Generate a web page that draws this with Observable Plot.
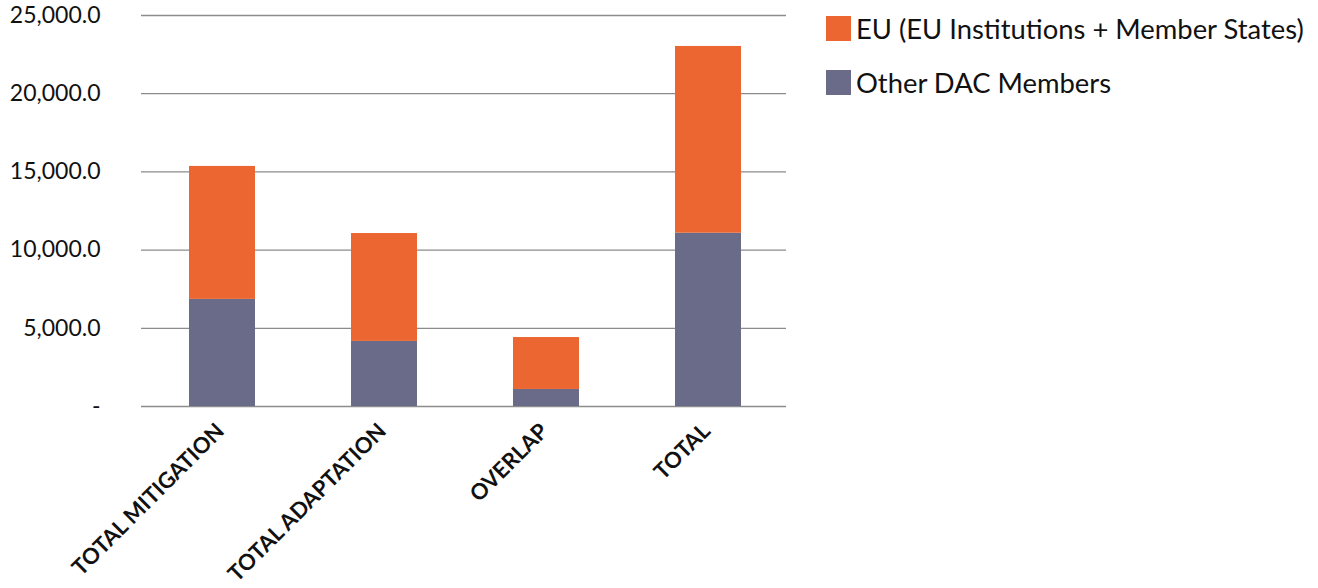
<!DOCTYPE html>
<html>
<head>
<meta charset="utf-8">
<script src="https://cdn.jsdelivr.net/npm/d3@7"></script>
<script src="https://cdn.jsdelivr.net/npm/@observablehq/plot@0.6"></script>
<style>
  html, body { margin: 0; padding: 0; background: #fff; }
  #wrap { position: relative; width: 1318px; height: 588px; font-family: Lato, "Open Sans", sans-serif; }
  #chart { position: absolute; left: 0; top: 0; }
  #legend { position: absolute; left: 826px; top: 15px; font-size: 27.4px; color: #111; }
  .item { display: flex; align-items: center; height: 26px; margin-bottom: 28px; white-space: nowrap; }
  .sw { width: 25px; height: 25px; margin-right: 5px; flex: none; }
</style>
</head>
<body>
<div id="wrap">
  <div id="chart"></div>
  <div id="legend"></div>
</div>
<script>
const categories = ["TOTAL MITIGATION", "TOTAL ADAPTATION", "OVERLAP", "TOTAL"];
const otherDAC = [6850, 4160, 1090, 11080];
const eu = [8500, 6900, 3320, 11940];
const seriesNames = ["Other DAC Members", "EU (EU Institutions + Member States)"];
const seriesColors = ["#6a6b88", "#eb6631"];
const yTicks = [0, 5000, 10000, 15000, 20000, 25000];

const rows = [];
categories.forEach((c, i) => {
  rows.push({category: c, series: seriesNames[0], value: otherDAC[i]});
  rows.push({category: c, series: seriesNames[1], value: eu[i]});
});

const fmt = d => d === 0 ? "-" : d3.format(",.1f")(d);

const chart = Plot.plot({
  width: 800,
  height: 588,
  marginLeft: 141,
  marginRight: 11,
  marginTop: 15,
  marginBottom: 182,
  style: {fontFamily: "Lato, 'Open Sans', sans-serif", background: "#fff", overflow: "visible"},
  x: {domain: categories, paddingInner: 0.59, paddingOuter: 0.295, label: null, axis: null},
  y: {domain: [0, 25000], label: null},
  color: {domain: seriesNames, range: seriesColors},
  marks: [
    Plot.ruleY(yTicks, {stroke: "#8c8c8c", strokeWidth: 1.3, insetRight: 3}),
    Plot.barY(rows, Plot.stackY({x: "category", y: "value", fill: "series", order: seriesNames})),
    Plot.axisY(yTicks, {tickSize: 0, tickPadding: 41, tickFormat: fmt, fontSize: 23, fill: "#111", label: null}),
    Plot.text(categories, {
      x: d => d, frameAnchor: "bottom", dy: 26, dx: 3,
      rotate: -45, textAnchor: "end", lineAnchor: "bottom",
      fontSize: 22, fontWeight: "bold", fill: "#111", text: d => d
    })
  ]
});
document.getElementById("chart").appendChild(chart);

const legend = document.getElementById("legend");
[1, 0].forEach(i => {
  const it = document.createElement("div");
  it.className = "item";
  const sw = document.createElement("span");
  sw.className = "sw";
  sw.style.background = seriesColors[i];
  const tx = document.createElement("span");
  tx.textContent = seriesNames[i];
  it.appendChild(sw); it.appendChild(tx);
  legend.appendChild(it);
});
</script>
</body>
</html>
